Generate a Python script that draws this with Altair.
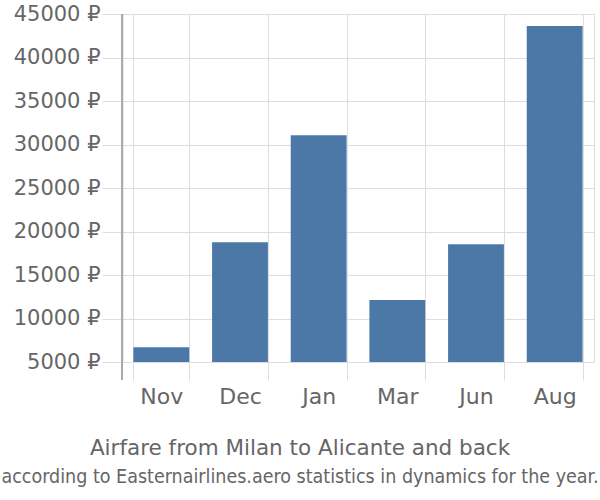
import altair as alt
import pandas as pd

months = ["Nov", "Dec", "Jan", "Mar", "Jun", "Aug"]
prices = [6700, 18760, 31060, 12130, 18530, 43620]
y_ticks = [5000, 10000, 15000, 20000, 25000, 30000, 35000, 40000, 45000]

df = pd.DataFrame({"month": months, "price": prices})

FONT = "DejaVu Sans"

bars = alt.Chart(df).mark_bar(color="#4c78a8").encode(
    x=alt.X(
        "month:N",
        sort=months,
        scale=alt.Scale(paddingInner=0.29, paddingOuter=0.145),
        axis=alt.Axis(
            title=None,
            labelAngle=0,
            labelFontSize=22,
            labelColor="#666666",
            labelFont=FONT,
            labelPadding=6,
            tickBand="extent",
            tickSize=18,
            tickColor="#dddddd",
            tickWidth=1,
            grid=True,
            gridColor="#dddddd",
            domain=False,
        ),
    ),
    y=alt.Y(
        "price:Q",
        scale=alt.Scale(domain=[5000, 45000], zero=False, nice=False),
        axis=alt.Axis(
            title=None,
            values=y_ticks,
            labelExpr="datum.value + ' ₽'",
            labelFontSize=21,
            labelColor="#666666",
            labelFont=FONT,
            labelPadding=2,
            tickSize=20,
            tickColor="#dddddd",
            grid=True,
            gridColor="#dddddd",
            domain=True,
            domainColor="#aaaaaa",
            domainWidth=1.5,
        ),
    ),
    y2=alt.datum(5000),
)

axis_ext = alt.Chart(df).mark_rule(color="#aaaaaa", strokeWidth=1.5).encode(
    x=alt.value(0), y=alt.value(0), y2=alt.value(366)
)

chart = (
    alt.layer(bars, axis_ext)
    .properties(
        width=472,
        height=348,
        autosize=alt.AutoSizeParams(type="none"),
        padding={"left": 122, "top": 14, "right": 6, "bottom": 138},
        title=alt.TitleParams(
            text="Airfare from Milan to Alicante and back",
            subtitle="according to Easternairlines.aero statistics in dynamics for the year.",
            orient="bottom",
            anchor="middle",
            dx=-58,
            font=FONT,
            fontSize=21.5,
            fontWeight="normal",
            color="#666666",
            subtitleFont="DejaVu Sans Condensed",
            subtitleFontSize=19.5,
            subtitleColor="#666666",
            subtitlePadding=8,
            offset=31,
        ),
    )
    .configure_view(stroke=None)
    .configure(background="white")
)

chart.save("out.html", embed_options={"renderer": "svg", "actions": False})
